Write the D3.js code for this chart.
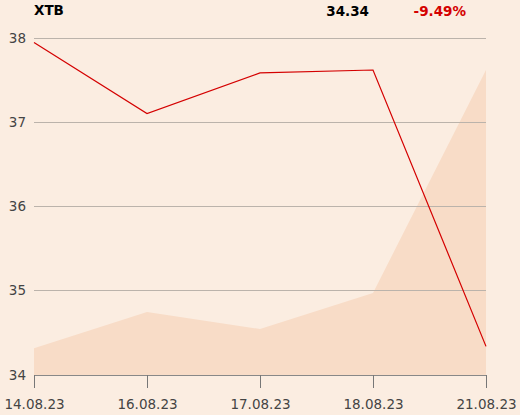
<!DOCTYPE html>
<html><head><meta charset="utf-8">
<script src="https://cdn.jsdelivr.net/npm/d3@7"></script>
<style>
html,body{margin:0;padding:0;background:#FBEDE1;}
svg{display:block;font-family:"DejaVu Sans",sans-serif;}
</style></head><body>
<script>
const dates = ["14.08.23","16.08.23","17.08.23","18.08.23","21.08.23"];
const prices = [37.947, 37.104, 37.585, 37.62, 34.34];
const volumes = [26.7, 63, 46, 82, 305];
const yTicks = [34, 35, 36, 37, 38];
const title = "XTB";
const lastPrice = "34.34";
const change = "-9.49%";

const W = 520, H = 415;
const svg = d3.select("body").append("svg").attr("width", W).attr("height", H);
svg.append("rect").attr("width", W).attr("height", H).attr("fill", "#FBEDE1");

const x = d3.scalePoint().domain(dates).range([34, 486]);
const y = d3.scaleLinear().domain([34, 38]).range([375, 38]);
const yv = d3.scaleLinear().domain([0, 337]).range([375, 38]);

// volume area
svg.append("path")
  .datum(volumes)
  .attr("fill", "#F8DCC7")
  .attr("d", d3.area().x((d, i) => x(dates[i])).y0(375).y1(d => yv(d)));

// gridlines
svg.append("g").selectAll("line").data(yTicks.filter(t => t !== 34)).join("line")
  .attr("x1", 34).attr("x2", 486)
  .attr("y1", d => y(d)).attr("y2", d => y(d))
  .attr("stroke", "#BBB3AB").attr("stroke-width", 1).attr("shape-rendering", "crispEdges");

// y labels
svg.append("g").selectAll("text").data(yTicks).join("text")
  .attr("x", 26).attr("y", d => y(d)).attr("dy", "0.35em")
  .attr("text-anchor", "end").attr("font-size", 13.5).attr("fill", "#444")
  .text(d => d);

// x axis
const xAxis = d3.axisBottom(x).tickSize(13).tickPadding(11).tickSizeOuter(0);
const gx = svg.append("g").attr("transform", "translate(0,375)").call(xAxis);
gx.select(".domain").attr("stroke", "#888");
gx.selectAll(".tick line").attr("stroke", "#777");
gx.selectAll(".tick text").attr("font-size", 13.5).attr("fill", "#444").attr("font-family", "DejaVu Sans, sans-serif");

// price line
svg.append("path")
  .datum(prices)
  .attr("fill", "none").attr("stroke", "#D40000").attr("stroke-width", 1.2)
  .attr("d", d3.line().x((d, i) => x(dates[i])).y(d => y(d)));

// header
svg.append("text").attr("x", 34).attr("y", 15).attr("font-size", 13.5).attr("font-weight", "bold").attr("fill", "#000").text(title);
svg.append("text").attr("x", 369).attr("y", 16).attr("text-anchor", "end").attr("font-size", 13.5).attr("font-weight", "bold").attr("fill", "#000").text(lastPrice);
svg.append("text").attr("x", 466).attr("y", 16).attr("text-anchor", "end").attr("font-size", 13.5).attr("font-weight", "bold").attr("fill", "#D40000").text(change);
</script>
</body></html>
